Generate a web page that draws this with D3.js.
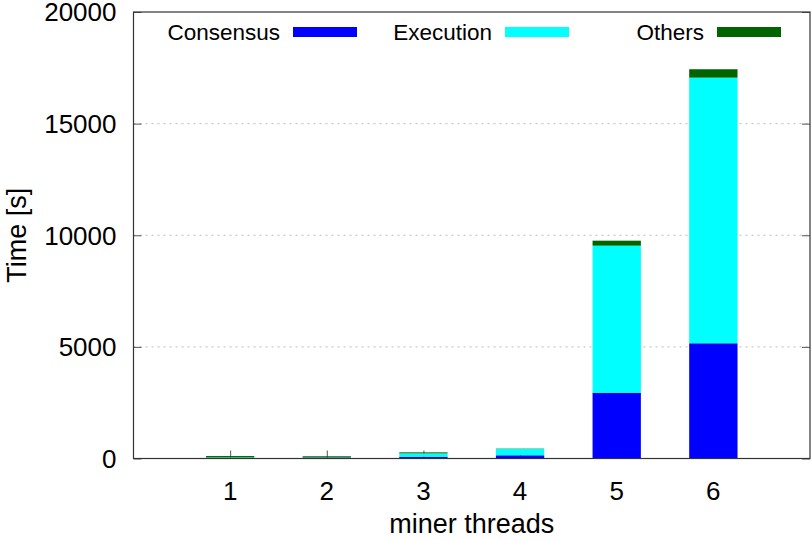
<!DOCTYPE html>
<html>
<head>
<meta charset="utf-8">
<script src="https://cdn.jsdelivr.net/npm/d3@7"></script>
<style>
  body { margin: 0; background: #fff; }
  text { font-family: "Liberation Sans", Arial, sans-serif; fill: #000; }
</style>
</head>
<body>
<script>

var width  = 812;
var height = 540;

// data
var threads   = [1, 2, 3, 4, 5, 6];
var consensus = [20, 40, 80, 143, 2948, 5161];
var execution = [30, 10, 150, 282, 6585, 11899];
var others    = [60, 50, 45, 15, 224, 376];

var seriesNames  = ['Consensus', 'Execution', 'Others'];
var seriesColors = ['#0000ff', '#00ffff', '#006400'];
var yTicks = [0, 5000, 10000, 15000, 20000];

var margin = { left: 133.5, right: 2, top: 12, bottom: 81.5 };
var plotW = width - margin.left - margin.right;
var plotH = height - margin.top - margin.bottom;

var rows = threads.map(function(t, i){
  return { t: t, Consensus: consensus[i], Execution: execution[i], Others: others[i] };
});
var stacked = d3.stack().keys(seriesNames)(rows);

var x = d3.scaleLinear().domain([0, 7]).range([0, plotW]);
var y = d3.scaleLinear().domain([0, 20000]).range([plotH, 0]);
var barW = x(0.5) - x(0);

var svg = d3.select('body')
            .append('svg')
            .attr('width', width)
            .attr('height', height);

var g = svg.append('g')
           .attr('transform', 'translate(' + margin.left + ',' + margin.top + ')');

// dotted grid
g.selectAll('line.grid')
 .data(yTicks.filter(function(d){ return d > 0 && d < 20000; }))
 .enter()
 .append('line')
 .attr('class', 'grid')
 .attr('x1', 0)
 .attr('x2', plotW)
 .attr('y1', function(d){ return y(d); })
 .attr('y2', function(d){ return y(d); })
 .attr('stroke', '#bbb')
 .attr('stroke-width', 1)
 .attr('stroke-dasharray', '2,4');

// y axis (left, ticks inside) and mirror on the right
var yAxis = g.append('g')
             .call(d3.axisRight(y).tickValues(yTicks).tickSize(8).tickFormat(''));
yAxis.select('.domain').remove();
yAxis.selectAll('line').attr('stroke', '#555');

var yAxisR = g.append('g')
              .attr('transform', 'translate(' + plotW + ',0)')
              .call(d3.axisLeft(y).tickValues(yTicks).tickSize(8).tickFormat(''));
yAxisR.select('.domain').remove();
yAxisR.selectAll('line').attr('stroke', '#555');

// x ticks (inside, drawn under bars)
var xAxis = g.append('g')
             .attr('transform', 'translate(0,' + plotH + ')')
             .call(d3.axisTop(x).tickValues(threads).tickSize(8).tickFormat(''));
xAxis.select('.domain').remove();
xAxis.selectAll('line').attr('stroke', '#555');

// tick labels
g.selectAll('text.ylab')
 .data(yTicks)
 .enter()
 .append('text')
 .attr('class', 'ylab')
 .attr('x', -17)
 .attr('y', function(d){ return y(d); })
 .attr('dy', '0.36em')
 .attr('text-anchor', 'end')
 .attr('font-size', '26px')
 .text(function(d){ return d; });

g.selectAll('text.xlab')
 .data(threads)
 .enter()
 .append('text')
 .attr('class', 'xlab')
 .attr('x', function(d){ return x(d); })
 .attr('y', plotH + 41)
 .attr('text-anchor', 'middle')
 .attr('font-size', '26px')
 .text(function(d){ return d; });

// stacked bars
g.selectAll('g.series')
 .data(stacked)
 .enter()
 .append('g')
 .attr('class', 'series')
 .attr('fill', function(d, i){ return seriesColors[i]; })
 .selectAll('rect')
 .data(function(d){ return d; })
 .enter()
 .append('rect')
 .attr('x', function(d){ return x(d.data.t) - barW / 2; })
 .attr('y', function(d){ return y(d[1]); })
 .attr('width', barW)
 .attr('height', function(d){ return y(d[0]) - y(d[1]); });

// border
g.append('rect')
 .attr('x', 0)
 .attr('y', 0)
 .attr('width', plotW)
 .attr('height', plotH)
 .attr('fill', 'none')
 .attr('stroke', '#333')
 .attr('stroke-width', 1.2);

// legend
var legX = [293, 505, 717];
var leg = svg.selectAll('g.leg')
             .data(seriesNames)
             .enter()
             .append('g')
             .attr('class', 'leg')
             .attr('transform', function(d, i){ return 'translate(' + legX[i] + ',27)'; });
leg.append('rect')
   .attr('width', 64)
   .attr('height', 10)
   .attr('fill', function(d, i){ return seriesColors[i]; });
leg.append('text')
   .attr('x', -13)
   .attr('y', 5)
   .attr('dy', '0.36em')
   .attr('text-anchor', 'end')
   .attr('font-size', '22.5px')
   .text(function(d){ return d; });

// axis titles
svg.append('text')
   .attr('transform', 'translate(26,' + (margin.top + plotH / 2) + ') rotate(-90)')
   .attr('text-anchor', 'middle')
   .attr('font-size', '27px')
   .text('Time [s]');

svg.append('text')
   .attr('x', margin.left + plotW / 2)
   .attr('y', 533)
   .attr('text-anchor', 'middle')
   .attr('font-size', '27px')
   .text('miner threads');

</script>
</body>
</html>
